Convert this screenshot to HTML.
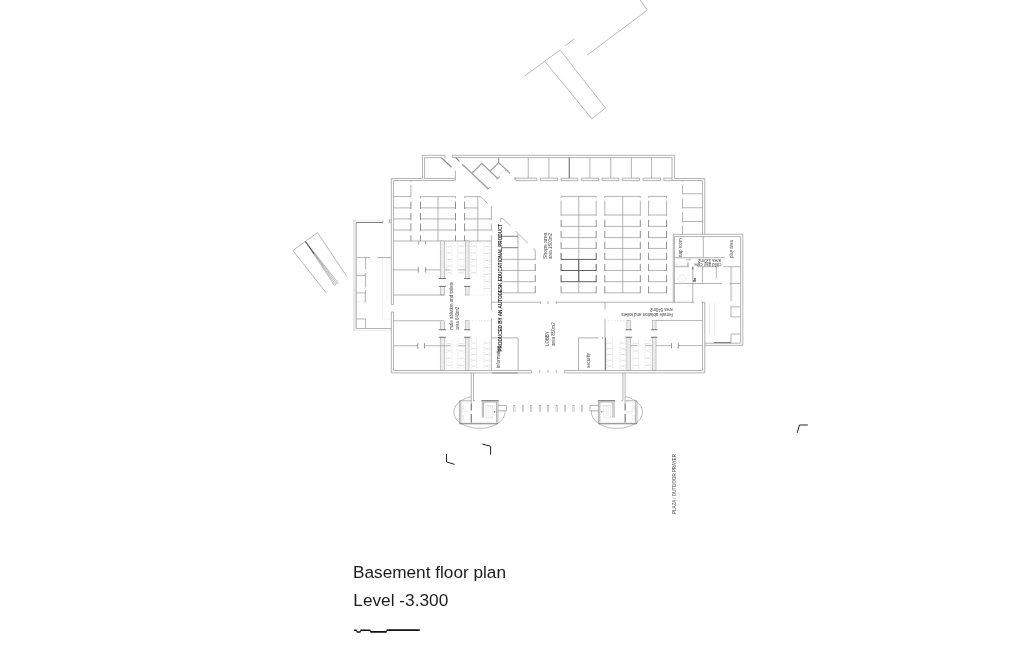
<!DOCTYPE html>
<html lang="en"><head><meta charset="utf-8"><title>Basement floor plan</title>
<style>
html,body{margin:0;padding:0;background:#fff;overflow:hidden}
svg{display:block;will-change:transform}
path,rect,ellipse{fill:none;stroke-linecap:butt;stroke-linejoin:miter}
.w{stroke:#949494;stroke-width:.7}
.w3{stroke:#8a8a8a;stroke-width:1.1}
.w5{stroke:#9c9c9c;stroke-width:1.1}
.w4{stroke:#a2a2a2;stroke-width:1.5}
.w2{stroke:#858585;stroke-width:.9}
.w2n{stroke:#9a9a9a;stroke-width:.5}
.n{stroke:#757575;stroke-width:.5}
.n2{stroke:#7d7d7d;stroke-width:.5}
.l{stroke:#d8d8d8;stroke-width:.5}
.l2{stroke:#e6e6e6;stroke-width:.5}
.ld{stroke:#d0d0d0;stroke-width:.5;stroke-dasharray:1.6 1.4}
.d{stroke:#444;stroke-width:.85}
.d2{stroke:#666;stroke-width:.85}
.k{stroke:#222;stroke-width:1}
.f{fill:#e9e9e9;stroke:none}
.fw{fill:#f7f7f7;stroke:#9a9a9a;stroke-width:.55}
text{font-family:"Liberation Sans",Arial,sans-serif;fill:#555}
.t{fill:#4a4a4a}
.tb{font-weight:bold;fill:#222}
.tt{fill:#1c1c1c}
</style></head>
<body>
<svg width="1024" height="657" viewBox="0 0 1024 657">
<rect x="0" y="0" width="1024" height="657" style="fill:#fff;stroke:none"/>
<path class="n" d="M524.5 76.1L560.1 50"/>
<path class="n" d="M565.1 45.8L574.5 38.75"/>
<path class="n" d="M587.3 55L647.3 10.2L640.1 0"/>
<path class="n" d="M544.8 61.25L591.75 118.75L605.5 108L560.1 50"/>
<path class="n" d="M326 292.6L292.9 250.5L317.5 232.6L347 276.75"/>
<path class="n" d="M305.4 241.4L334.75 285.75"/>
<path class="n" d="M305.4 241.4L336 285"/>
<path class="n" d="M305.4 241.4L337.25 284.1"/>
<path class="n" d="M305.4 241.4L338.5 283.25"/>
<path class="d" d="M305.4 241.4L314 254"/>
<rect class="f" x="353.4" y="220.3" width="2.85" height="110" />
<path class="l" d="M353.4 220.3L353.4 330.5"/>
<path class="w" d="M356.3 222.5L356.3 328.5"/>
<path class="l" d="M353.4 220.3L382.8 220.3"/>
<path class="d2" d="M356.3 222.5L382.8 222.5"/>
<path class="w" d="M382.8 220.3L382.8 222.5"/>
<path class="w" d="M356.3 328.5L391.4 328.5"/>
<path class="l" d="M353.4 330.5L391.4 330.5"/>
<path class="w" d="M356.3 257.5L370 257.5"/>
<path class="w" d="M377.2 257.5L391.4 257.5"/>
<path class="w" d="M365.6 257.5L365.6 269.4"/>
<path class="w" d="M365.6 273L365.6 287.5"/>
<path class="w" d="M365.6 290L365.6 302.5"/>
<path class="w" d="M365.6 319L365.6 328.5"/>
<path class="w" d="M356.3 275.4L365.6 275.4"/>
<path class="w" d="M356.3 292.9L365.6 292.9"/>
<path class="ld" d="M356.3 301.9L365.6 301.9"/>
<path class="w" d="M356.3 319L365.6 319"/>
<path class="l" d="M364.6 293L364.6 302"/>
<path class="l2" d="M382.5 258L382.5 319"/>
<path class="l2" d="M387 258L387 300"/>
<path class="l2" d="M382.5 319L391 319"/>
<path class="w" d="M391.3 178.5L391.3 304.4"/>
<path class="w" d="M391.3 312L391.3 372.9"/>
<path class="w" d="M393.5 180.5L393.5 304.4"/>
<path class="w" d="M393.5 312L393.5 370.5"/>
<path class="w" d="M391.3 304.4L393.5 304.4"/>
<path class="w" d="M391.3 312L393.5 312"/>
<path class="w" d="M391.3 219.8L389.3 219.8L389.3 222.3L391.3 222.3"/>
<path class="w" d="M391.3 178.5L422.5 178.5L422.5 155.3L445 155.3L445 157.6"/>
<path class="w" d="M393.5 180.5L455.4 180.5"/>
<path class="w" d="M424.6 178.5L424.6 157.6L441.5 157.6"/>
<path class="w" d="M424.6 178.5L455.4 178.5"/>
<path class="w3" d="M441.5 157.75L451.5 167.25"/>
<path class="w" d="M455.4 170.5L455.4 180.5"/>
<path class="w" d="M452.3 157.6L452.3 155.3L674.4 155.3L674.4 178.5L704.8 178.5L704.8 234.3"/>
<path class="w" d="M452.3 157.6L672 157.6L672 178.2"/>
<path class="w" d="M672 180.5L702.5 180.5L702.5 234.3"/>
<path class="w3" d="M455.6 157.7L459.5 161.3"/>
<path class="w4" d="M462.2 164.2L488.4 189"/>
<path class="w" d="M487.4 189.6L489.6 187.4"/>
<path class="w5" d="M472.2 173L481.8 163.3L497.6 178.5"/>
<path class="w5" d="M496.6 179.4L499.8 176.6"/>
<path class="l2" d="M476.8 174.383L486.8 183.983"/>
<path class="l2" d="M478.4 172.767L488.4 182.367"/>
<path class="l2" d="M480 171.15L490 180.75"/>
<path class="l2" d="M481.6 169.533L491.6 179.133"/>
<path class="l2" d="M483.2 167.917L493.2 177.517"/>
<path class="w5" d="M490.2 171.1L498.6 162.5L510.1 173.4"/>
<path class="w5" d="M498.6 157.6L498.6 162.5"/>
<path class="l" d="M497.6 176.2L503.9 170.5"/>
<path class="w" d="M505 171L507 169.5L508 171"/>
<path class="w" d="M528.25 157.6L528.25 178.2"/>
<path class="w" d="M548.9 157.6L548.9 178.2"/>
<path class="d" d="M569.25 157.6L569.25 178.2"/>
<path class="w" d="M589.9 157.6L589.9 178.2"/>
<path class="w" d="M610.75 157.6L610.75 178.2"/>
<path class="w" d="M631.4 157.6L631.4 178.2"/>
<path class="w" d="M651.6 157.6L651.6 178.2"/>
<path class="w" d="M514.5 178.2L536.75 178.2L536.75 180.6L516 180.6L514.5 178.2"/>
<path class="w" d="M540.5 178.2L557.6 178.2L557.6 180.6L540.5 180.6L540.5 178.2"/>
<path class="w" d="M561 178.2L577.9 178.2L577.9 180.6L561 180.6L561 178.2"/>
<path class="w" d="M581.4 178.2L598.6 178.2L598.6 180.6L581.4 180.6L581.4 178.2"/>
<path class="w" d="M602 178.2L618.9 178.2L618.9 180.6L602 180.6L602 178.2"/>
<path class="w" d="M622.25 178.2L639.5 178.2L639.5 180.6L622.25 180.6L622.25 178.2"/>
<path class="w" d="M643 178.2L660.6 178.2L660.6 180.6L643 180.6L643 178.2"/>
<path class="w" d="M663.75 178.2L672 178.2L672 180.6L663.75 180.6L663.75 178.2"/>
<path class="w" d="M514.4 177.3L516 178.5"/>
<path class="w" d="M682.5 180.5L682.5 181.5"/>
<path class="w" d="M682.5 185L682.5 194.4"/>
<path class="w" d="M682.5 198.75L682.5 208.5"/>
<path class="w" d="M682.5 211.9L682.5 222.25"/>
<path class="w" d="M682.5 225.6L682.5 234.3"/>
<path class="w" d="M682.5 193.75L702.5 193.75"/>
<path class="w" d="M682.5 207.75L702.5 207.75"/>
<path class="w" d="M682.5 221.5L702.5 221.5"/>
<path class="w" d="M561.1 196.4L596.2 196.4"/>
<path class="w" d="M561.1 215L596.2 215"/>
<path class="w" d="M561.1 226.4L596.2 226.4"/>
<path class="w" d="M561.1 237.6L596.2 237.6"/>
<path class="w" d="M561.1 248.4L596.2 248.4"/>
<path class="d" d="M561.1 259.4L596.2 259.4"/>
<path class="d" d="M561.1 270.5L596.2 270.5"/>
<path class="d" d="M561.1 281.7L596.2 281.7"/>
<path class="w" d="M561.1 292.8L596.2 292.8"/>
<path class="w" d="M578.75 196.4L578.75 292.8"/>
<path class="d" d="M578.75 259.4L578.75 281.7"/>
<path class="w" d="M561.1 196.4L561.1 198"/>
<path class="w" d="M561.1 200.6L561.1 216"/>
<path class="w2" d="M561.1 219.8L561.1 226.9"/>
<path class="w2" d="M561.1 231L561.1 238.1"/>
<path class="w2" d="M561.1 241.8L561.1 248.9"/>
<path class="d" d="M561.1 252.8L561.1 259.9"/>
<path class="d" d="M561.1 263.9L561.1 271"/>
<path class="d" d="M561.1 275.1L561.1 282.2"/>
<path class="w2" d="M561.1 286.2L561.1 293.3"/>
<path class="w" d="M596.2 196.4L596.2 198"/>
<path class="w" d="M596.2 200.6L596.2 216"/>
<path class="w2" d="M596.2 219.8L596.2 226.9"/>
<path class="w2" d="M596.2 231L596.2 238.1"/>
<path class="w2" d="M596.2 241.8L596.2 248.9"/>
<path class="d" d="M596.2 252.8L596.2 259.9"/>
<path class="d" d="M596.2 263.9L596.2 271"/>
<path class="d" d="M596.2 275.1L596.2 282.2"/>
<path class="w2" d="M596.2 286.2L596.2 293.3"/>
<path class="w" d="M604.75 196.4L640.3 196.4"/>
<path class="w" d="M604.75 215L640.3 215"/>
<path class="w" d="M604.75 226.4L640.3 226.4"/>
<path class="w" d="M604.75 237.6L640.3 237.6"/>
<path class="w" d="M604.75 248.4L640.3 248.4"/>
<path class="w" d="M604.75 259.4L640.3 259.4"/>
<path class="w" d="M604.75 270.5L640.3 270.5"/>
<path class="w" d="M604.75 281.7L640.3 281.7"/>
<path class="w" d="M604.75 292.8L640.3 292.8"/>
<path class="w" d="M622.7 196.4L622.7 292.8"/>
<path class="w" d="M604.75 196.4L604.75 198"/>
<path class="w" d="M604.75 200.6L604.75 216"/>
<path class="w2" d="M604.75 219.8L604.75 226.9"/>
<path class="w2" d="M604.75 231L604.75 238.1"/>
<path class="w2" d="M604.75 241.8L604.75 248.9"/>
<path class="w2" d="M604.75 252.8L604.75 259.9"/>
<path class="w2" d="M604.75 263.9L604.75 271"/>
<path class="w2" d="M604.75 275.1L604.75 282.2"/>
<path class="w2" d="M604.75 286.2L604.75 293.3"/>
<path class="w" d="M640.3 196.4L640.3 198"/>
<path class="w" d="M640.3 200.6L640.3 216"/>
<path class="w2" d="M640.3 219.8L640.3 226.9"/>
<path class="w2" d="M640.3 231L640.3 238.1"/>
<path class="w2" d="M640.3 241.8L640.3 248.9"/>
<path class="w2" d="M640.3 252.8L640.3 259.9"/>
<path class="w2" d="M640.3 263.9L640.3 271"/>
<path class="w2" d="M640.3 275.1L640.3 282.2"/>
<path class="w2" d="M640.3 286.2L640.3 293.3"/>
<path class="w" d="M648.6 196.4L666.5 196.4"/>
<path class="w" d="M648.6 215L666.5 215"/>
<path class="w" d="M648.6 226.4L666.5 226.4"/>
<path class="w" d="M648.6 237.6L666.5 237.6"/>
<path class="w" d="M648.6 248.4L666.5 248.4"/>
<path class="w" d="M648.6 259.4L666.5 259.4"/>
<path class="w" d="M648.6 270.5L666.5 270.5"/>
<path class="w" d="M648.6 281.7L666.5 281.7"/>
<path class="w" d="M648.6 292.8L666.5 292.8"/>
<path class="w" d="M648.6 196.4L648.6 198"/>
<path class="w" d="M648.6 200.6L648.6 216"/>
<path class="w2" d="M648.6 219.8L648.6 226.9"/>
<path class="w2" d="M648.6 231L648.6 238.1"/>
<path class="w2" d="M648.6 241.8L648.6 248.9"/>
<path class="w2" d="M648.6 252.8L648.6 259.9"/>
<path class="w2" d="M648.6 263.9L648.6 271"/>
<path class="w2" d="M648.6 275.1L648.6 282.2"/>
<path class="w2" d="M648.6 286.2L648.6 293.3"/>
<path class="w" d="M666.5 196.4L666.5 198"/>
<path class="w" d="M666.5 200.6L666.5 216"/>
<path class="w2" d="M666.5 219.8L666.5 226.9"/>
<path class="w2" d="M666.5 231L666.5 238.1"/>
<path class="w2" d="M666.5 241.8L666.5 248.9"/>
<path class="w2" d="M666.5 252.8L666.5 259.9"/>
<path class="w2" d="M666.5 263.9L666.5 271"/>
<path class="w2" d="M666.5 275.1L666.5 282.2"/>
<path class="w2" d="M666.5 286.2L666.5 293.3"/>
<path class="w" d="M393.5 196.6L410.9 196.6"/>
<path class="w" d="M393.5 207.9L410.9 207.9"/>
<path class="w" d="M393.5 218.9L410.9 218.9"/>
<path class="w" d="M393.5 230L410.9 230"/>
<path class="w" d="M410.9 180.5L410.9 181.6"/>
<path class="w" d="M410.9 185L410.9 197.4"/>
<path class="w2" d="M410.9 201.6L410.9 209"/>
<path class="w2" d="M410.9 212.9L410.9 220.4"/>
<path class="w2" d="M410.9 223.5L410.9 231.25"/>
<path class="w2" d="M410.9 235.4L410.9 241"/>
<path class="w" d="M420.5 196.6L455.5 196.6"/>
<path class="w" d="M420.5 207.9L455.5 207.9"/>
<path class="w" d="M420.5 218.9L455.5 218.9"/>
<path class="w" d="M420.5 230L455.5 230"/>
<path class="w" d="M438 196.6L438 241"/>
<path class="w" d="M420.5 196.6L420.5 198.2"/>
<path class="w2" d="M420.5 201.6L420.5 209"/>
<path class="w2" d="M420.5 212.9L420.5 220.4"/>
<path class="w2" d="M420.5 223.5L420.5 231.25"/>
<path class="w2" d="M420.5 235.4L420.5 241"/>
<path class="w" d="M455.5 196.6L455.5 198.2"/>
<path class="w2" d="M455.5 201.6L455.5 209"/>
<path class="w2" d="M455.5 212.9L455.5 220.4"/>
<path class="w2" d="M455.5 223.5L455.5 231.25"/>
<path class="w2" d="M455.5 235.4L455.5 241"/>
<path class="w" d="M464.6 196.6L464.6 198.2"/>
<path class="w2" d="M464.6 201.6L464.6 209"/>
<path class="w2" d="M464.6 212.9L464.6 220.4"/>
<path class="w2" d="M464.6 223.5L464.6 231.25"/>
<path class="w2" d="M464.6 235.4L464.6 241"/>
<path class="w" d="M464.6 196.6L480.8 196.6"/>
<path class="w" d="M480.8 196.6L487.75 203.5"/>
<path class="w" d="M477.75 196.6L477.75 241"/>
<path class="w" d="M464.6 207.9L477.75 207.9"/>
<path class="w" d="M464.6 218.9L491.4 218.9"/>
<path class="w" d="M464.6 230L491.4 230"/>
<path class="w" d="M491.4 206L491.4 220.4"/>
<path class="w" d="M491.4 223.5L491.4 231.25"/>
<path class="w" d="M491.4 235.4L491.4 310.4"/>
<path class="w" d="M491.4 318.5L491.4 370.5"/>
<path class="w" d="M393.5 241L491.4 241"/>
<path class="w" d="M500.6 222L500.6 218.6L503 218.6L510.6 226"/>
<path class="w" d="M515.6 231L528 243.5"/>
<path class="w" d="M533 248.5L535.25 250.2L535.25 260"/>
<path class="w2" d="M535.25 264L535.25 271"/>
<path class="w2" d="M535.25 275L535.25 282"/>
<path class="w2" d="M535.25 286L535.25 293"/>
<path class="d2" d="M501 236.3L518 236.3"/>
<path class="d2" d="M501 247.7L518 247.7"/>
<path class="w" d="M501 259.4L535.25 259.4"/>
<path class="w" d="M501 270.5L535.25 270.5"/>
<path class="w" d="M501 281.7L535.25 281.7"/>
<path class="w" d="M501 292.8L535.25 292.8"/>
<path class="w" d="M518 234L518 292.8"/>
<path class="w" d="M491.4 302.25L540.6 302.25"/>
<path class="w" d="M540.6 301.2L540.6 304"/>
<path class="w" d="M548 301L548 304"/>
<path class="w" d="M556.25 301.2L556.25 304"/>
<path class="w" d="M556.25 302.25L694.4 302.25"/>
<path class="w" d="M605 302.25L605 309.75"/>
<path class="w" d="M605 318.75L605 370.5"/>
<path class="w" d="M393.5 269.9L417.75 269.9"/>
<path class="w" d="M425.9 269.9L440.25 269.9"/>
<path class="w" d="M444.5 269.9L450.6 269.9"/>
<path class="w" d="M458.4 269.9L465.9 269.9"/>
<path class="w2" d="M418.4 267.4L418.4 272.6"/>
<path class="w2" d="M425.6 267.4L425.6 272.6"/>
<path class="w" d="M418.75 241L418.75 245"/>
<path class="w" d="M425.5 241L425.5 245"/>
<rect class="fw" x="440.25" y="241" width="4.35" height="37.5" />
<path class="l" d="M441.925 241L441.925 278.5"/>
<path class="l" d="M443.125 241L443.125 278.5"/>
<path class="d2" d="M438.75 278.5L446.1 278.5"/>
<rect class="fw" x="440.25" y="286.4" width="4.35" height="8.6" />
<path class="l" d="M441.925 286.4L441.925 295"/>
<path class="l" d="M443.125 286.4L443.125 295"/>
<path class="d2" d="M438.75 286.4L446.1 286.4"/>
<rect class="fw" x="440.25" y="320.75" width="4.35" height="9" />
<path class="l" d="M441.925 320.75L441.925 329.75"/>
<path class="l" d="M443.125 320.75L443.125 329.75"/>
<path class="d2" d="M438.75 329.75L446.1 329.75"/>
<rect class="fw" x="440.25" y="337.25" width="4.35" height="33.25" />
<path class="l" d="M441.925 337.25L441.925 370.5"/>
<path class="l" d="M443.125 337.25L443.125 370.5"/>
<path class="d2" d="M438.75 337.25L446.1 337.25"/>
<rect class="fw" x="465.6" y="241" width="3.4" height="37.5" />
<path class="l" d="M466.8 241L466.8 278.5"/>
<path class="l" d="M468 241L468 278.5"/>
<path class="d2" d="M464.1 278.5L470.5 278.5"/>
<rect class="fw" x="465.6" y="286.4" width="3.4" height="8.6" />
<path class="l" d="M466.8 286.4L466.8 295"/>
<path class="l" d="M468 286.4L468 295"/>
<path class="d2" d="M464.1 286.4L470.5 286.4"/>
<rect class="fw" x="465.6" y="320.75" width="3.4" height="9" />
<path class="l" d="M466.8 320.75L466.8 329.75"/>
<path class="l" d="M468 320.75L468 329.75"/>
<path class="d2" d="M464.1 329.75L470.5 329.75"/>
<rect class="fw" x="465.6" y="337.25" width="3.4" height="33.25" />
<path class="l" d="M466.8 337.25L466.8 370.5"/>
<path class="l" d="M468 337.25L468 370.5"/>
<path class="d2" d="M464.1 337.25L470.5 337.25"/>
<path class="w" d="M393.5 295L444.6 295"/>
<path class="ld" d="M465.6 295L491.4 295"/>
<path class="w" d="M393.5 320.75L440.25 320.75"/>
<path class="ld" d="M469 320.75L491.4 320.75"/>
<path class="w" d="M393.5 345.75L417.5 345.75"/>
<path class="w" d="M424.6 345.75L450.9 345.75"/>
<path class="w" d="M458.4 345.75L465.6 345.75"/>
<path class="w2" d="M417.8 343.2L417.8 348.4"/>
<path class="w2" d="M424.4 343.2L424.4 348.4"/>
<path class="l" d="M400 294L400 295"/>
<path class="l" d="M400 320.75L400 321.8"/>
<path class="l" d="M406 294L406 295"/>
<path class="l" d="M406 320.75L406 321.8"/>
<path class="l" d="M412 294L412 295"/>
<path class="l" d="M412 320.75L412 321.8"/>
<path class="l" d="M418 294L418 295"/>
<path class="l" d="M418 320.75L418 321.8"/>
<path class="l" d="M424 294L424 295"/>
<path class="l" d="M424 320.75L424 321.8"/>
<path class="l" d="M430 294L430 295"/>
<path class="l" d="M430 320.75L430 321.8"/>
<path class="l" d="M436 294L436 295"/>
<path class="l" d="M436 320.75L436 321.8"/>
<path class="ld" d="M446.5 243L446.5 276"/>
<path class="ld" d="M452 243L452 276"/>
<path class="l" d="M446.5 246.3L450.5 246.3"/>
<path class="l" d="M448 246.3L452 246.3"/>
<path class="l" d="M446.5 252.9L450.5 252.9"/>
<path class="l" d="M448 252.9L452 252.9"/>
<path class="l" d="M446.5 259.5L450.5 259.5"/>
<path class="l" d="M448 259.5L452 259.5"/>
<path class="l" d="M446.5 266.1L450.5 266.1"/>
<path class="l" d="M448 266.1L452 266.1"/>
<path class="l" d="M446.5 272.7L450.5 272.7"/>
<path class="l" d="M448 272.7L452 272.7"/>
<path class="ld" d="M458 243L458 276"/>
<path class="ld" d="M464 243L464 276"/>
<path class="l" d="M458 246.3L462 246.3"/>
<path class="l" d="M460 246.3L464 246.3"/>
<path class="l" d="M458 252.9L462 252.9"/>
<path class="l" d="M460 252.9L464 252.9"/>
<path class="l" d="M458 259.5L462 259.5"/>
<path class="l" d="M460 259.5L464 259.5"/>
<path class="l" d="M458 266.1L462 266.1"/>
<path class="l" d="M460 266.1L464 266.1"/>
<path class="l" d="M458 272.7L462 272.7"/>
<path class="l" d="M460 272.7L464 272.7"/>
<path class="ld" d="M471 243L471 276"/>
<path class="ld" d="M476.5 243L476.5 276"/>
<path class="l" d="M471 246.3L475 246.3"/>
<path class="l" d="M472.5 246.3L476.5 246.3"/>
<path class="l" d="M471 252.9L475 252.9"/>
<path class="l" d="M472.5 252.9L476.5 252.9"/>
<path class="l" d="M471 259.5L475 259.5"/>
<path class="l" d="M472.5 259.5L476.5 259.5"/>
<path class="l" d="M471 266.1L475 266.1"/>
<path class="l" d="M472.5 266.1L476.5 266.1"/>
<path class="l" d="M471 272.7L475 272.7"/>
<path class="l" d="M472.5 272.7L476.5 272.7"/>
<path class="ld" d="M484 243L484 292"/>
<path class="ld" d="M489.5 243L489.5 292"/>
<path class="l" d="M484 246.5L488 246.5"/>
<path class="l" d="M485.5 246.5L489.5 246.5"/>
<path class="l" d="M484 253.5L488 253.5"/>
<path class="l" d="M485.5 253.5L489.5 253.5"/>
<path class="l" d="M484 260.5L488 260.5"/>
<path class="l" d="M485.5 260.5L489.5 260.5"/>
<path class="l" d="M484 267.5L488 267.5"/>
<path class="l" d="M485.5 267.5L489.5 267.5"/>
<path class="l" d="M484 274.5L488 274.5"/>
<path class="l" d="M485.5 274.5L489.5 274.5"/>
<path class="l" d="M484 281.5L488 281.5"/>
<path class="l" d="M485.5 281.5L489.5 281.5"/>
<path class="l" d="M484 288.5L488 288.5"/>
<path class="l" d="M485.5 288.5L489.5 288.5"/>
<path class="ld" d="M446.5 340L446.5 369"/>
<path class="ld" d="M452 340L452 369"/>
<path class="l" d="M446.5 343.625L450.5 343.625"/>
<path class="l" d="M448 343.625L452 343.625"/>
<path class="l" d="M446.5 350.875L450.5 350.875"/>
<path class="l" d="M448 350.875L452 350.875"/>
<path class="l" d="M446.5 358.125L450.5 358.125"/>
<path class="l" d="M448 358.125L452 358.125"/>
<path class="l" d="M446.5 365.375L450.5 365.375"/>
<path class="l" d="M448 365.375L452 365.375"/>
<path class="ld" d="M458 340L458 369"/>
<path class="ld" d="M464 340L464 369"/>
<path class="l" d="M458 343.625L462 343.625"/>
<path class="l" d="M460 343.625L464 343.625"/>
<path class="l" d="M458 350.875L462 350.875"/>
<path class="l" d="M460 350.875L464 350.875"/>
<path class="l" d="M458 358.125L462 358.125"/>
<path class="l" d="M460 358.125L464 358.125"/>
<path class="l" d="M458 365.375L462 365.375"/>
<path class="l" d="M460 365.375L464 365.375"/>
<path class="ld" d="M471 340L471 369"/>
<path class="ld" d="M476.5 340L476.5 369"/>
<path class="l" d="M471 342.9L475 342.9"/>
<path class="l" d="M472.5 342.9L476.5 342.9"/>
<path class="l" d="M471 348.7L475 348.7"/>
<path class="l" d="M472.5 348.7L476.5 348.7"/>
<path class="l" d="M471 354.5L475 354.5"/>
<path class="l" d="M472.5 354.5L476.5 354.5"/>
<path class="l" d="M471 360.3L475 360.3"/>
<path class="l" d="M472.5 360.3L476.5 360.3"/>
<path class="l" d="M471 366.1L475 366.1"/>
<path class="l" d="M472.5 366.1L476.5 366.1"/>
<path class="ld" d="M484 340L484 369"/>
<path class="ld" d="M489.5 340L489.5 369"/>
<path class="l" d="M484 342.9L488 342.9"/>
<path class="l" d="M485.5 342.9L489.5 342.9"/>
<path class="l" d="M484 348.7L488 348.7"/>
<path class="l" d="M485.5 348.7L489.5 348.7"/>
<path class="l" d="M484 354.5L488 354.5"/>
<path class="l" d="M485.5 354.5L489.5 354.5"/>
<path class="l" d="M484 360.3L488 360.3"/>
<path class="l" d="M485.5 360.3L489.5 360.3"/>
<path class="l" d="M484 366.1L488 366.1"/>
<path class="l" d="M485.5 366.1L489.5 366.1"/>
<path class="ld" d="M605 320.6L626.9 320.6"/>
<path class="w" d="M656 320.6L702.5 320.6"/>
<rect class="fw" x="626.9" y="320.6" width="3.7" height="9.15" />
<path class="l" d="M628.25 320.6L628.25 329.75"/>
<path class="l" d="M629.45 320.6L629.45 329.75"/>
<path class="d2" d="M625.4 329.75L632.1 329.75"/>
<rect class="fw" x="626.9" y="337.25" width="3.7" height="33.25" />
<path class="l" d="M628.25 337.25L628.25 370.5"/>
<path class="l" d="M629.45 337.25L629.45 370.5"/>
<path class="d2" d="M625.4 337.25L632.1 337.25"/>
<rect class="fw" x="652.5" y="320.6" width="3.5" height="9.15" />
<path class="l" d="M653.75 320.6L653.75 329.75"/>
<path class="l" d="M654.95 320.6L654.95 329.75"/>
<path class="d2" d="M651 329.75L657.5 329.75"/>
<rect class="fw" x="652.5" y="337.25" width="3.5" height="33.25" />
<path class="l" d="M653.75 337.25L653.75 370.5"/>
<path class="l" d="M654.95 337.25L654.95 370.5"/>
<path class="d2" d="M651 337.25L657.5 337.25"/>
<path class="w" d="M630.6 345.6L637.5 345.6"/>
<path class="w" d="M645 345.6L652.5 345.6"/>
<path class="w" d="M656 345.6L671.25 345.6"/>
<path class="w" d="M678.5 345.6L702.5 345.6"/>
<path class="w2" d="M671.6 343L671.6 348.3"/>
<path class="w2" d="M678.3 343L678.3 348.3"/>
<path class="w" d="M602.5 336.8L602.5 339"/>
<path class="d2" d="M605.6 337.5L605.6 370.5"/>
<path class="ld" d="M607 340L607 369"/>
<path class="ld" d="M612.5 340L612.5 369"/>
<path class="l" d="M607 342.9L611 342.9"/>
<path class="l" d="M608.5 342.9L612.5 342.9"/>
<path class="l" d="M607 348.7L611 348.7"/>
<path class="l" d="M608.5 348.7L612.5 348.7"/>
<path class="l" d="M607 354.5L611 354.5"/>
<path class="l" d="M608.5 354.5L612.5 354.5"/>
<path class="l" d="M607 360.3L611 360.3"/>
<path class="l" d="M608.5 360.3L612.5 360.3"/>
<path class="l" d="M607 366.1L611 366.1"/>
<path class="l" d="M608.5 366.1L612.5 366.1"/>
<path class="ld" d="M620 340L620 369"/>
<path class="ld" d="M625.5 340L625.5 369"/>
<path class="l" d="M620 342.9L624 342.9"/>
<path class="l" d="M621.5 342.9L625.5 342.9"/>
<path class="l" d="M620 348.7L624 348.7"/>
<path class="l" d="M621.5 348.7L625.5 348.7"/>
<path class="l" d="M620 354.5L624 354.5"/>
<path class="l" d="M621.5 354.5L625.5 354.5"/>
<path class="l" d="M620 360.3L624 360.3"/>
<path class="l" d="M621.5 360.3L625.5 360.3"/>
<path class="l" d="M620 366.1L624 366.1"/>
<path class="l" d="M621.5 366.1L625.5 366.1"/>
<path class="ld" d="M633 340L633 369"/>
<path class="ld" d="M638.5 340L638.5 369"/>
<path class="l" d="M633 343.625L637 343.625"/>
<path class="l" d="M634.5 343.625L638.5 343.625"/>
<path class="l" d="M633 350.875L637 350.875"/>
<path class="l" d="M634.5 350.875L638.5 350.875"/>
<path class="l" d="M633 358.125L637 358.125"/>
<path class="l" d="M634.5 358.125L638.5 358.125"/>
<path class="l" d="M633 365.375L637 365.375"/>
<path class="l" d="M634.5 365.375L638.5 365.375"/>
<path class="ld" d="M645 340L645 369"/>
<path class="ld" d="M650.5 340L650.5 369"/>
<path class="l" d="M645 343.625L649 343.625"/>
<path class="l" d="M646.5 343.625L650.5 343.625"/>
<path class="l" d="M645 350.875L649 350.875"/>
<path class="l" d="M646.5 350.875L650.5 350.875"/>
<path class="l" d="M645 358.125L649 358.125"/>
<path class="l" d="M646.5 358.125L650.5 358.125"/>
<path class="l" d="M645 365.375L649 365.375"/>
<path class="l" d="M646.5 365.375L650.5 365.375"/>
<path class="l" d="M660 319.6L660 320.6"/>
<path class="l" d="M666 319.6L666 320.6"/>
<path class="l" d="M672 319.6L672 320.6"/>
<path class="l" d="M678 319.6L678 320.6"/>
<path class="l" d="M684 319.6L684 320.6"/>
<path class="l" d="M690 319.6L690 320.6"/>
<path class="l" d="M696 319.6L696 320.6"/>
<path class="w" d="M491.4 337.9L518.1 337.9"/>
<path class="w" d="M518.1 337.9L518.1 370.5"/>
<path class="w" d="M578.5 337.9L598.75 337.9"/>
<path class="w" d="M578.5 337.9L578.5 370.5"/>
<path d="M492 372.9H518" stroke="#bdbdbd" stroke-width="1.6" fill="none"/>
<path class="w" d="M391.3 372.9L531.5 372.9L531.5 370.5L393.5 370.5"/>
<path class="w" d="M704.8 302.25L704.8 372.9L564.4 372.9L564.4 370.5L702.5 370.5L702.5 302.25"/>
<path class="w" d="M701.2 302.25L704.8 302.25"/>
<path class="w" d="M539.75 370L539.75 372.9"/>
<path class="w" d="M548.1 370L548.1 372.9"/>
<path class="w" d="M556.25 370L556.25 372.9"/>
<path class="w" d="M471.25 372.9L471.25 403.5"/>
<path class="w" d="M473.5 372.9L473.5 400.75"/>
<path class="n2" d="M471.25 396.55A25.6 16.4 0 1 0 504.97 411"/>
<path class="w" d="M459.4 400.75L459.4 423.75"/>
<path class="w" d="M460.8 400.75L460.8 423.75"/>
<path class="w" d="M459.4 400.75L471.25 400.75"/>
<path class="l" d="M460.8 402L471.25 402"/>
<path class="d2" d="M459.4 423.75L497.9 423.75"/>
<path class="l" d="M460.8 422.6L496.6 422.6"/>
<path class="d" d="M471.25 403.5L471.25 410.5"/>
<path class="d" d="M471.25 414L471.25 422.5"/>
<path class="l" d="M460.8 411.8L471.25 411.8"/>
<path class="l" d="M463.5 405L463.5 410"/>
<path class="l" d="M463.5 415L463.5 421"/>
<path class="l" d="M462 405L462 410"/>
<path class="l" d="M462 415L462 421"/>
<path class="w" d="M473.5 400.75L475 400.75"/>
<path class="d" d="M481.5 400.75L498.5 400.75"/>
<path class="w" d="M483.6 402L496.6 402"/>
<path class="w" d="M482.25 400.75L482.25 417.5"/>
<path class="w" d="M483.6 402L483.6 417.5"/>
<path class="w" d="M497.9 400.75L497.9 423.75"/>
<path class="w" d="M496.6 402L496.6 422.6"/>
<rect class="l" x="486" y="405.5" width="6.5" height="12.5" />
<path class="l" d="M488.2 405.5L488.2 418"/>
<path class="l" d="M490.3 405.5L490.3 418"/>
<path class="l" d="M486 405.5L496.6 405.5"/>
<path class="d" d="M494.6 411L494.6 412.5"/>
<path class="w" d="M497.9 405.4L506.5 405.4"/>
<path class="w" d="M497.9 410.75L506.5 410.75"/>
<path class="w" d="M506.5 405.4L506.5 410.75"/>
<path class="l" d="M497.9 411.8L504 411.8"/>
<path class="w" d="M625.15 372.9L625.15 403.5"/>
<path class="w" d="M622.9 372.9L622.9 400.75"/>
<path class="n2" d="M625.15 396.55A25.6 16.4 0 1 1 591.43 411"/>
<path class="w" d="M637 400.75L637 423.75"/>
<path class="w" d="M635.6 400.75L635.6 423.75"/>
<path class="w" d="M637 400.75L625.15 400.75"/>
<path class="l" d="M635.6 402L625.15 402"/>
<path class="d2" d="M637 423.75L598.5 423.75"/>
<path class="l" d="M635.6 422.6L599.8 422.6"/>
<path class="d" d="M625.15 403.5L625.15 410.5"/>
<path class="d" d="M625.15 414L625.15 422.5"/>
<path class="l" d="M635.6 411.8L625.15 411.8"/>
<path class="l" d="M632.9 405L632.9 410"/>
<path class="l" d="M632.9 415L632.9 421"/>
<path class="l" d="M634.4 405L634.4 410"/>
<path class="l" d="M634.4 415L634.4 421"/>
<path class="w" d="M622.9 400.75L621.4 400.75"/>
<path class="d" d="M614.9 400.75L597.9 400.75"/>
<path class="w" d="M612.8 402L599.8 402"/>
<path class="w" d="M614.15 400.75L614.15 417.5"/>
<path class="w" d="M612.8 402L612.8 417.5"/>
<path class="w" d="M598.5 400.75L598.5 423.75"/>
<path class="w" d="M599.8 402L599.8 422.6"/>
<rect class="l" x="603.9" y="405.5" width="6.5" height="12.5" />
<path class="l" d="M608.2 405.5L608.2 418"/>
<path class="l" d="M606.1 405.5L606.1 418"/>
<path class="l" d="M610.4 405.5L599.8 405.5"/>
<path class="d" d="M601.8 411L601.8 412.5"/>
<path class="w" d="M598.5 405.4L589.9 405.4"/>
<path class="w" d="M598.5 410.75L589.9 410.75"/>
<path class="w" d="M589.9 405.4L589.9 410.75"/>
<path class="l" d="M598.5 411.8L592.4 411.8"/>
<rect class="w2n" x="513.8" y="405.4" width="1.2" height="6.2" />
<rect class="w2n" x="522.24" y="405.4" width="1.2" height="6.2" />
<rect class="w2n" x="530.68" y="405.4" width="1.2" height="6.2" />
<rect class="w2n" x="539.12" y="405.4" width="1.2" height="6.2" />
<rect class="w2n" x="547.56" y="405.4" width="1.2" height="6.2" />
<rect class="w2n" x="556" y="405.4" width="1.2" height="6.2" />
<rect class="w2n" x="564.44" y="405.4" width="1.2" height="6.2" />
<rect class="w2n" x="572.88" y="405.4" width="1.2" height="6.2" />
<rect class="w2n" x="581.32" y="405.4" width="1.2" height="6.2" />
<path class="k" d="M446.5 454L446.5 461.9L454.6 464.4"/>
<path class="k" d="M482.25 444.1L490.6 446.25L490.6 454.6"/>
<path class="k" d="M797.2 432.9L799.4 425L807.9 425"/>
<path class="w" d="M673.3 302.25L673.3 234.3L742.8 234.3L742.8 345.4L704.8 345.4"/>
<path class="w" d="M674.4 302.25L674.4 236.6L740.6 236.6L740.6 343.2L704.8 343.2"/>
<path class="w" d="M703.3 236.6L703.3 257.7"/>
<path class="w" d="M674.4 257.7L724.6 257.7"/>
<path class="l" d="M674.4 258.6L700 258.6"/>
<path class="w" d="M674.4 266.7L688.7 266.7"/>
<path class="w" d="M697.3 266.7L718 266.7"/>
<path class="w" d="M723.5 266.7L740.6 266.7"/>
<path class="l" d="M674.4 265.8L688.7 265.8"/>
<path class="w2" d="M688 262.5L688 266.7"/>
<path class="l" d="M675 262L678 262"/>
<path class="l" d="M675 264.5L678 264.5"/>
<path class="w" d="M686 259.8L691 259.8"/>
<path class="w" d="M692.8 266.7L692.8 302.25"/>
<path class="d2" d="M692.8 266.7L692.8 270"/>
<path class="w" d="M702.4 266.7L702.4 283.5"/>
<path class="w" d="M716.3 266.7L716.3 278.4"/>
<path class="w" d="M731 266.7L731 301.2"/>
<path class="l" d="M732 266.7L732 301.2"/>
<path class="w" d="M674.4 283.5L721.9 283.5"/>
<path class="w" d="M729.4 283.5L740.6 283.5"/>
<path class="w" d="M731 305.6L731 317.25"/>
<path class="w" d="M731 306.9L740.6 306.9"/>
<path class="w" d="M731 316.9L740.6 316.9"/>
<path class="w" d="M731 334L740.6 334"/>
<path class="w" d="M731 334L731 343.2"/>
<path class="d2" d="M713.75 342.6L731 342.6"/>
<path class="l" d="M709.4 303L709.4 335"/>
<path class="l" d="M714.4 303L714.4 335"/>
<path class="l" d="M677 279L682 274L687 279L682 282Z"/>
<text class="tb" x="501.9" y="351.6" font-size="4.6" text-anchor="start" transform="rotate(-90 501.9 351.6)"  textLength="127.8" lengthAdjust="spacingAndGlyphs">PRODUCED BY AN AUTODESK EDUCATIONAL PRODUCT</text>
<text class="t" x="546.6" y="259" font-size="4.6" text-anchor="start" transform="rotate(-90 546.6 259)"  textLength="26.4" lengthAdjust="spacingAndGlyphs">Shops area</text>
<text class="t" x="552.2" y="259" font-size="4.45" text-anchor="start" transform="rotate(-90 552.2 259)"  textLength="26" lengthAdjust="spacingAndGlyphs">area 1800m2</text>
<text class="t" x="453" y="329.8" font-size="4.45" text-anchor="start" transform="rotate(-90 453 329.8)"  textLength="47.75" lengthAdjust="spacingAndGlyphs">male ablution and toilets</text>
<text class="t" x="458.6" y="329.8" font-size="4.45" text-anchor="start" transform="rotate(-90 458.6 329.8)"  textLength="23" lengthAdjust="spacingAndGlyphs">area 640m2</text>
<text class="t" x="499.9" y="368" font-size="4.45" text-anchor="start" transform="rotate(-90 499.9 368)"  textLength="22" lengthAdjust="spacingAndGlyphs">information</text>
<text class="t" x="549.4" y="346" font-size="4.45" text-anchor="start" transform="rotate(-90 549.4 346)"  textLength="14.75" lengthAdjust="spacingAndGlyphs">LOBBY</text>
<text class="t" x="555" y="346" font-size="4.45" text-anchor="start" transform="rotate(-90 555 346)"  textLength="23.75" lengthAdjust="spacingAndGlyphs">area 850m2</text>
<text class="t" x="590" y="368" font-size="4.45" text-anchor="start" transform="rotate(-90 590 368)"  textLength="15" lengthAdjust="spacingAndGlyphs">security</text>
<text class="t" x="672.8" y="308.4" font-size="4.45" text-anchor="start" transform="rotate(180 672.8 308.4)"  textLength="22.75" lengthAdjust="spacingAndGlyphs">area 640m2</text>
<text class="t" x="672.8" y="313.1" font-size="4.45" text-anchor="start" transform="rotate(180 672.8 313.1)"  textLength="51.5" lengthAdjust="spacingAndGlyphs">female ablution and toilets</text>
<text class="t" x="721" y="258.5" font-size="4.45" text-anchor="start" transform="rotate(180 721 258.5)"  textLength="23" lengthAdjust="spacingAndGlyphs">area 320m2</text>
<text class="t" x="721.5" y="262.9" font-size="4.45" text-anchor="start" transform="rotate(180 721.5 262.9)"  textLength="27.3" lengthAdjust="spacingAndGlyphs">child day care</text>
<text class="t" x="681.7" y="257" font-size="4.45" text-anchor="start" transform="rotate(-90 681.7 257)"  textLength="18.8" lengthAdjust="spacingAndGlyphs">nap room</text>
<text class="t" x="732.9" y="258" font-size="4.45" text-anchor="start" transform="rotate(-90 732.9 258)"  textLength="17.8" lengthAdjust="spacingAndGlyphs">play area</text>
<text class="tb" x="695.6" y="282" font-size="3.2" text-anchor="start" transform="rotate(-90 695.6 282)" >lkt</text>
<text class="t" x="676.3" y="514" font-size="4.45" text-anchor="start" transform="rotate(-90 676.3 514)"  textLength="60" lengthAdjust="spacingAndGlyphs">PLAZA / OUTDOOR PRAYER</text>
<text class="tt" x="353" y="577.5" font-size="16.8" text-anchor="start"  textLength="153" lengthAdjust="spacingAndGlyphs">Basement floor plan</text>
<text class="tt" x="353.3" y="606" font-size="16.8" text-anchor="start"  textLength="95" lengthAdjust="spacingAndGlyphs">Level -3.300</text>
<path d="M354.1 630.2H356.75M356.75 631.9H360.5M360.5 630.2H370.3" stroke="#111" stroke-width="1.5" fill="none"/>
<path d="M370.3 631.9H386.7M386.7 630.2H419.7" stroke="#111" stroke-width="1.8" fill="none"/>
<path d="M356.75 630.2V631.9M360.5 630.2V631.9M370.3 630.2V631.9M386.7 630.2V631.9" stroke="#111" stroke-width=".8" fill="none"/>
</svg>
</body></html>
